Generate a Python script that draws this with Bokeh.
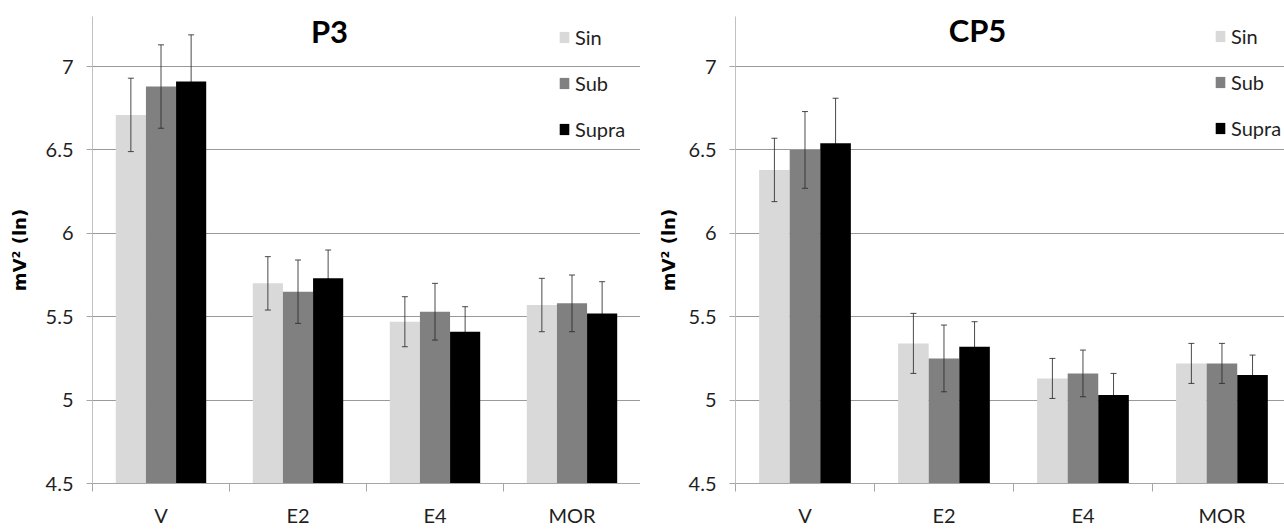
from bokeh.plotting import figure
from bokeh.layouts import row
from bokeh.models import (ColumnDataSource, Range1d, FixedTicker, CustomJSTickFormatter,
                          NumeralTickFormatter, Whisker, TeeHead, Legend, LegendItem, Label)
from bokeh.transform import dodge
from bokeh.embed import file_html
from bokeh.resources import INLINE

# ---- data -------------------------------------------------------------
categories = ["V", "E2", "E4", "MOR"]
series = ["Sin", "Sub", "Supra"]
colors = ["#d9d9d9", "#808080", "#000000"]
y_ticks = [4.5, 5, 5.5, 6, 6.5, 7]

p3_sin = [6.71, 5.70, 5.47, 5.57]
p3_sub = [6.88, 5.65, 5.53, 5.58]
p3_supra = [6.91, 5.73, 5.41, 5.52]
p3_sin_err = [0.22, 0.16, 0.15, 0.16]
p3_sub_err = [0.25, 0.19, 0.17, 0.17]
p3_supra_err = [0.28, 0.17, 0.15, 0.19]

cp5_sin = [6.38, 5.34, 5.13, 5.22]
cp5_sub = [6.50, 5.25, 5.16, 5.22]
cp5_supra = [6.54, 5.32, 5.03, 5.15]
cp5_sin_err = [0.19, 0.18, 0.12, 0.12]
cp5_sub_err = [0.23, 0.20, 0.14, 0.12]
cp5_supra_err = [0.27, 0.15, 0.13, 0.12]

Y_MIN, Y_MAX = 4.5, 7.3
BAR_W = 0.22
FONT = "Lato"
TEXT = "#1f1f1f"
ERR = "#2b2b2b"


def make_panel(title, values, errors, width, left_border, x_end,
               ylabel_standoff, legend_loc, title_pos):
    p = figure(width=width, height=529, output_backend="svg", toolbar_location=None,
               x_range=Range1d(0, x_end), y_range=Range1d(Y_MIN, Y_MAX),
               min_border_left=left_border, min_border_right=0,
               min_border_top=16, min_border_bottom=43)
    p.outline_line_color = None
    p.background_fill_color = "white"
    p.border_fill_color = "white"

    data = {"xc": [i + 0.5 for i in range(len(categories))]}
    for s, v, e in zip(series, values, errors):
        data[s] = v
        data[s + "_lo"] = [a - b for a, b in zip(v, e)]
        data[s + "_hi"] = [a + b for a, b in zip(v, e)]
    src = ColumnDataSource(data)

    offsets = [-BAR_W, 0.0, BAR_W]
    items = []
    for s, c, off in zip(series, colors, offsets):
        r = p.vbar(x=dodge("xc", off, range=p.x_range), top=s, bottom=Y_MIN,
                   width=BAR_W, fill_color=c, line_color=None, source=src)
        items.append(LegendItem(label=s, renderers=[r]))
    # error bars; the black series' bars sit over the lower half of their own bars
    levels = ["overlay", "overlay", "underlay"]
    for s, off, lvl in zip(series, offsets, levels):
        w = Whisker(source=src, base=dodge("xc", off, range=p.x_range),
                    lower=s + "_lo", upper=s + "_hi", level=lvl,
                    line_color=ERR, line_width=1, line_alpha=0.85,
                    upper_head=TeeHead(size=6, line_color=ERR, line_width=1, line_alpha=0.85),
                    lower_head=TeeHead(size=6, line_color=ERR, line_width=1, line_alpha=0.85))
        p.add_layout(w)

    # x axis: category labels centred, tick marks between categories
    xa = p.xaxis[0]
    xa.ticker = FixedTicker(ticks=[i + 0.5 for i in range(len(categories))],
                            minor_ticks=list(range(len(categories) + 1)))
    xa.formatter = CustomJSTickFormatter(args=dict(cats=categories),
                                         code="return cats[Math.floor(tick)];")
    xa.major_tick_line_color = None
    xa.major_tick_out = 0
    xa.major_tick_in = 0
    xa.minor_tick_out = 8
    xa.minor_tick_in = 0
    xa.minor_tick_line_color = "#a6a6a6"
    xa.axis_line_color = "#a6a6a6"
    xa.major_label_text_font = FONT
    xa.major_label_text_font_size = "20px"
    xa.major_label_text_color = TEXT
    xa.major_label_standoff = 11

    ya = p.yaxis[0]
    ya.ticker = FixedTicker(ticks=y_ticks, minor_ticks=[])
    ya.formatter = NumeralTickFormatter(format="0.[0]")
    ya.axis_line_color = "#c0c0c0"
    ya.major_tick_line_color = "#a6a6a6"
    ya.major_tick_out = 6
    ya.major_tick_in = 0
    ya.minor_tick_line_color = None
    ya.major_label_text_font = FONT
    ya.major_label_text_font_size = "20px"
    ya.major_label_text_color = TEXT
    ya.major_label_standoff = 13
    ya.axis_label = "mV² (ln)"
    ya.axis_label_text_font = "DejaVu Sans"
    ya.axis_label_text_font_style = "bold"
    ya.axis_label_text_font_size = "18px"
    ya.axis_label_text_color = "#000000"
    ya.axis_label_standoff = ylabel_standoff

    p.xgrid.grid_line_color = None
    p.ygrid.ticker = FixedTicker(ticks=y_ticks)
    p.ygrid.grid_line_color = "#999999"
    p.ygrid.grid_line_width = 1

    legend = Legend(items=items, location=legend_loc, orientation="vertical",
                    border_line_color=None, background_fill_alpha=0,
                    padding=0, margin=0, spacing=22, label_standoff=5,
                    glyph_width=12, glyph_height=14, label_height=24,
                    label_text_font=FONT, label_text_font_size="20px",
                    label_text_color=TEXT)
    p.add_layout(legend)

    p.add_layout(Label(x=title_pos[0], y=title_pos[1], x_units="screen", y_units="screen",
                       text=title, text_align="center", text_baseline="middle",
                       text_font=FONT, text_font_style="bold", text_font_size="31px",
                       text_color="#000000"))
    return p


left = make_panel("P3", [p3_sin, p3_sub, p3_supra],
                  [p3_sin_err, p3_sub_err, p3_supra_err],
                  width=640, left_border=92, x_end=4.0, ylabel_standoff=13,
                  legend_loc=(466, 342), title_pos=(237, 453))
right = make_panel("CP5", [cp5_sin, cp5_sub, cp5_supra],
                   [cp5_sin_err, cp5_sub_err, cp5_supra_err],
                   width=644, left_border=95, x_end=3.95, ylabel_standoff=7,
                   legend_loc=(479, 343), title_pos=(242, 454))

page = row(left, right, spacing=0)
open("out.html", "w").write(file_html(page, INLINE))
